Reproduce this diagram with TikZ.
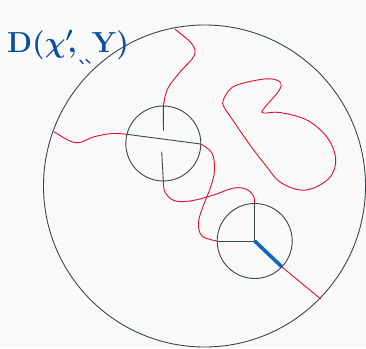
\RequirePackage{fix-cm}
\documentclass[tikz,border=0pt]{standalone}
\definecolor{bg}{RGB}{249,249,249}
\definecolor{slate}{RGB}{55,71,79}
\definecolor{crim}{RGB}{220,16,43}
\definecolor{inkblue}{RGB}{11,78,162}
\definecolor{thickblue}{RGB}{21,101,192}
\tikzset{
  ring/.style={draw=slate, line width=0.9pt},
  spoke/.style={draw=slate, line width=0.9pt},
  strand/.style={draw=crim, line width=0.9pt},
  bluebar/.style={draw=thickblue, line width=3.6pt},
  hand/.style={text=inkblue, font=\fontsize{29}{29}\selectfont\boldmath, inner sep=0pt}
}
\begin{document}
\begin{tikzpicture}[x=1pt,y=-1pt]
\fill[bg] (0,0) rectangle (366,348);
\useasboundingbox (0,0) rectangle (366,348);
% circles
\coordinate (C) at (204.5,186);
\coordinate (A) at (163.3,143.5);
\coordinate (B) at (254.7,241);
\draw[ring] (C) circle[radius=161];
\draw[ring] (A) circle[radius=37.5];
\draw[ring] (B) circle[radius=37.5];
% circle A spokes
\coordinate (Atop) at (163.3,106);
\coordinate (Abot) at (163.3,181);
\coordinate (Aleft) at (126.7,134.3);
\coordinate (Aright) at (200.7,144);
\draw[spoke] (Atop) -- (163.5,130.7);
\draw[spoke] (161.7,151.7) -- (Abot);
\draw[spoke] (Aleft) -- (Aright);
% circle B spokes
\coordinate (Btop) at (254.7,203.5);
\coordinate (Bleft) at (217.2,241);
\coordinate (Bout) at (281.7,266.7);
\coordinate (Cout) at (320.7,299);
\draw[spoke] (Btop) -- (B) -- (Bleft);
% red strands
\draw[strand] plot[smooth, tension=0.6] coordinates {(175,29.3) (192,44) (194,56) (180,72) (168,88) (164,101.7) (Atop)};
\draw[strand] plot[smooth, tension=0.6] coordinates {(Aright) (212,153) (214.5,170) (211,186) (204,204) (198.5,222) (202,236) (Bleft)};
\draw[strand] plot[smooth, tension=0.6] coordinates {(Abot) (165,192) (174,200.5) (190,201) (212,195.5) (234,188) (247,189.5) (253.5,196) (Btop)};
\draw[strand] plot[smooth, tension=0.6] coordinates {(Aleft) (112,133.5) (93.3,137) (80,142.5) (70,141) (54,131.7)};
\draw[strand] plot[smooth cycle, tension=0.6] coordinates {(223.3,100) (232,87.5) (250,81.5) (270,78.8) (281,83) (278,92) (263.5,109) (264,113) (280,112.5) (306.7,120) (326.7,136.7) (335.5,157) (331.7,175) (316.7,186.7) (300,190) (280,182) (266.7,166.7) (250,145) (232,119) (224,107)};
\draw[strand] (Bout) -- (Cout);
\draw[bluebar] (B) -- (Bout);
% label
\node[hand, anchor=base west] (lbl) at (7,52) {$\mathrm{D}(\chi'\!,\;\mathrm{Y})$};
\draw[inkblue, line width=1.4pt, line cap=round] (80,60) -- (83,63.5) (86,59.5) -- (90,63);
\end{tikzpicture}
\end{document}
